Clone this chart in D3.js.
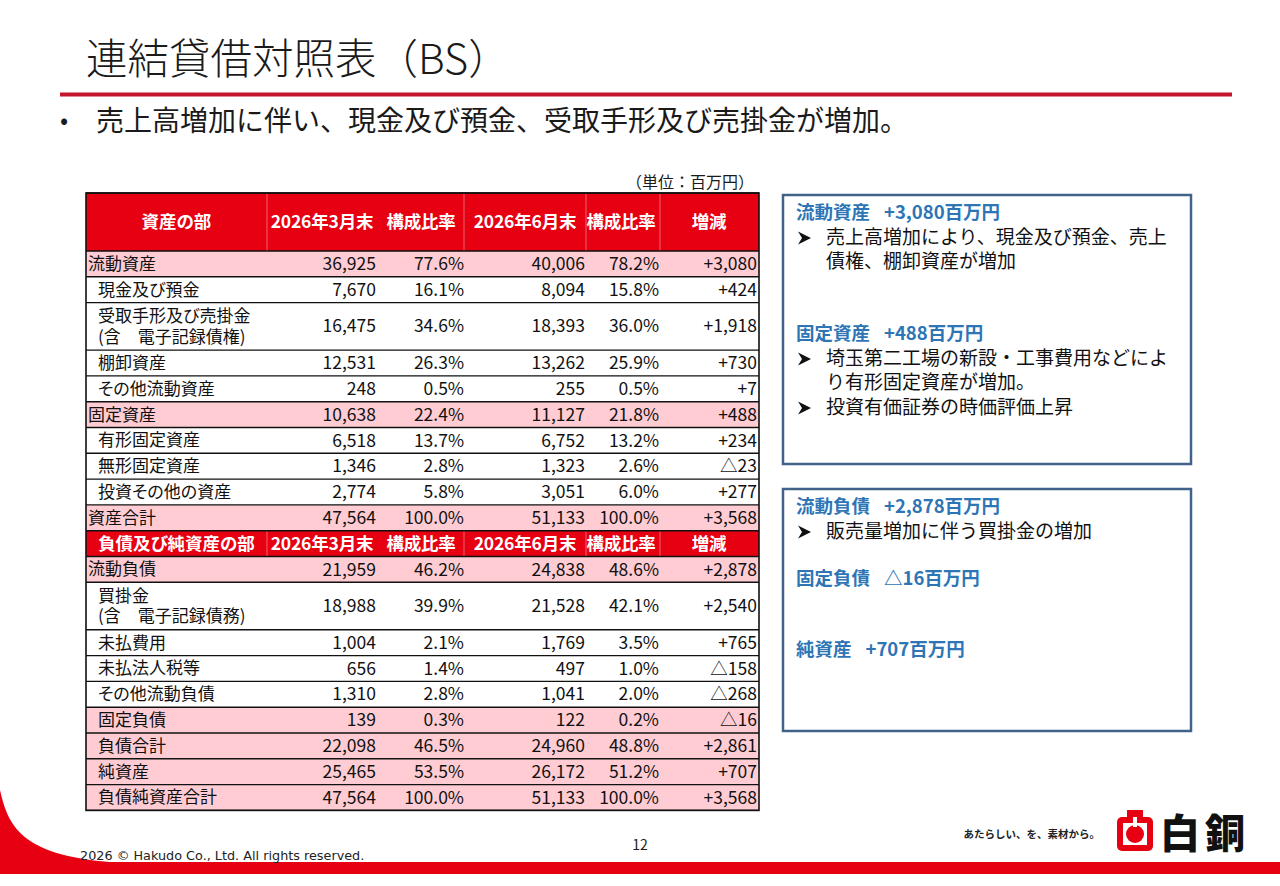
<!DOCTYPE html>
<html lang="ja">
<head>
<meta charset="utf-8">
<script src="https://cdn.jsdelivr.net/npm/d3@7"></script>
<style>
  body { margin: 0; background: #fff; }
  svg { display: block; font-family: "Noto Sans CJK JP", "Noto Sans", sans-serif; }
  .palt { font-feature-settings: "palt"; }
</style>
</head>
<body>
<svg id="slide" width="1280" height="886"></svg>
<script>
// ---- data (単位：百万円) ----
const sectionTitles = ["資産の部", "負債及び純資産の部"];
const columnHeaders = ["2026年3月末", "構成比率", "2026年6月末", "構成比率", "増減"];

// 資産の部
const assetLabels = ["流動資産", "現金及び預金", "受取手形及び売掛金|(含　電子記録債権)", "棚卸資産", "その他流動資産",
  "固定資産", "有形固定資産", "無形固定資産", "投資その他の資産", "資産合計"];
const assetKind = ["total", "item", "item", "item", "item", "total", "item", "item", "item", "total"];
const assetMar = [36925, 7670, 16475, 12531, 248, 10638, 6518, 1346, 2774, 47564];
const assetMarPct = [77.6, 16.1, 34.6, 26.3, 0.5, 22.4, 13.7, 2.8, 5.8, 100.0];
const assetJun = [40006, 8094, 18393, 13262, 255, 11127, 6752, 1323, 3051, 51133];
const assetJunPct = [78.2, 15.8, 36.0, 25.9, 0.5, 21.8, 13.2, 2.6, 6.0, 100.0];
const assetDiff = [3080, 424, 1918, 730, 7, 488, 234, -23, 277, 3568];

// 負債及び純資産の部
const liabLabels = ["流動負債", "買掛金|(含　電子記録債務)", "未払費用", "未払法人税等", "その他流動負債",
  "固定負債", "負債合計", "純資産", "負債純資産合計"];
const liabKind = ["total", "item", "item", "item", "item", "sub", "sub", "sub", "sub"];
const liabMar = [21959, 18988, 1004, 656, 1310, 139, 22098, 25465, 47564];
const liabMarPct = [46.2, 39.9, 2.1, 1.4, 2.8, 0.3, 46.5, 53.5, 100.0];
const liabJun = [24838, 21528, 1769, 497, 1041, 122, 24960, 26172, 51133];
const liabJunPct = [48.6, 42.1, 3.5, 1.0, 2.0, 0.2, 48.8, 51.2, 100.0];
const liabDiff = [2878, 2540, 765, -158, -268, -16, 2861, 707, 3568];

// 右側コメント
const noteAssets = [
  { head: "流動資産", amount: "+3,080百万円", bullets: [["売上高増加により、現金及び預金、売上", "債権、棚卸資産が増加"]] },
  { head: "固定資産", amount: "+488百万円", bullets: [["埼玉第二工場の新設・工事費用などによ", "り有形固定資産が増加。"], ["投資有価証券の時価評価上昇"]] }
];
const noteLiab = [
  { head: "流動負債", amount: "+2,878百万円", bullets: [["販売量増加に伴う買掛金の増加"]] },
  { head: "固定負債", amount: "△16百万円", bullets: [] },
  { head: "純資産", amount: "+707百万円", bullets: [] }
];

// ---- layout ----
const RED = "#E60012", PINK = "#FFCCD3", BLUE = "#2E75B6", FRAME = "#41638A";
const svg = d3.select("#slide");

const fmtNum = d3.format(",");
const fmtPct = v => d3.format(".1f")(v) + "%";
const fmtDiff = v => v < 0 ? "△" + fmtNum(-v) : d3.format("+,")(v);

function buildRows(labels, kind, mar, marPct, jun, junPct, diff) {
  return labels.map((l, i) => ({
    lines: l.split("|"), kind: kind[i],
    vals: [fmtNum(mar[i]), fmtPct(marPct[i]), fmtNum(jun[i]), fmtPct(junPct[i]), fmtDiff(diff[i])]
  }));
}

const rows = [
  { header: sectionTitles[0], tall: true },
  ...buildRows(assetLabels, assetKind, assetMar, assetMarPct, assetJun, assetJunPct, assetDiff),
  { header: sectionTitles[1] },
  ...buildRows(liabLabels, liabKind, liabMar, liabMarPct, liabJun, liabJunPct, liabDiff)
];

// row heights from content
const rowH = d => d.tall ? 58 : (d.lines && d.lines.length > 1 ? 47.5 : 25.8);
const tableTop = 193, tableLeft = 86, tableRight = 759;
const tops = [tableTop, ...d3.cumsum(rows, rowH).map(v => v + tableTop)];
rows.forEach((d, i) => { d.y0 = tops[i]; d.h = rowH(d); });
const tableBottom = tops[tops.length - 1];

// column edges: label | 3月末 | 構成比 | 6月末 | 構成比 | 増減
const colEdges = [tableLeft, 267, 464, 586, 660, tableRight];
const valueRight = d3.scaleOrdinal().domain(d3.range(5)).range([376, 464, 585, 659, 757]);
const headerCenter = d3.scaleOrdinal().domain(d3.range(5)).range([322, 421, 525, 621, 709]);

// title
svg.append("text").attr("x", 86).attr("y", 74)
  .attr("font-size", 41.5).attr("font-weight", 300).attr("fill", "#1a1a1a").text("連結貸借対照表（BS）");
svg.append("rect").attr("x", 60).attr("y", 92.5).attr("width", 1172).attr("height", 4).attr("fill", "#C3172C");
svg.append("text").attr("x", 60).attr("y", 121).attr("dy", "0.35em")
  .attr("font-size", 24).attr("fill", "#1a1a1a").text("•");
svg.append("text").attr("x", 96).attr("y", 121).attr("dy", "0.35em")
  .attr("font-size", 28).attr("fill", "#1a1a1a").text("売上高増加に伴い、現金及び預金、受取手形及び売掛金が増加。");

svg.append("text").attr("x", 754).attr("y", 182).attr("dy", "0.35em").attr("text-anchor", "end")
  .attr("font-size", 16).attr("fill", "#1a1a1a").text("（単位：百万円）");

// table rows
const table = svg.append("g").attr("class", "palt");
const rowG = table.selectAll("g.row").data(rows).join("g").attr("class", "row")
  .attr("transform", d => `translate(0,${d.y0})`);

rowG.append("rect")
  .attr("x", tableLeft).attr("width", tableRight - tableLeft).attr("height", d => d.h)
  .attr("fill", d => d.header ? RED : (d.kind === "item" ? "#fff" : PINK));

// light dividers in header rows
rowG.filter(d => d.header).selectAll("line.div")
  .data(d => colEdges.slice(1, -1).map(x => ({ x, h: d.h })))
  .join("line").attr("class", "div")
  .attr("x1", d => d.x).attr("x2", d => d.x).attr("y1", 0).attr("y2", d => d.h)
  .attr("stroke", "#F0646E").attr("stroke-width", 1);

// header texts
const hdr = rowG.filter(d => d.header);
hdr.append("text").attr("x", (tableLeft + colEdges[1]) / 2).attr("y", d => d.h / 2).attr("dy", "0.35em")
  .attr("text-anchor", "middle").attr("font-size", 17.5).attr("font-weight", 700).attr("fill", "#fff")
  .text(d => d.header);
hdr.selectAll("text.col").data(d => columnHeaders.map((c, i) => ({ c, i, h: d.h })))
  .join("text").attr("class", "col")
  .attr("x", d => headerCenter(d.i)).attr("y", d => d.h / 2).attr("dy", "0.35em")
  .attr("text-anchor", "middle").attr("font-size", 17.5).attr("font-weight", 700).attr("fill", "#fff")
  .attr("letter-spacing", -0.2)
  .text(d => d.c);

// data texts
const body = rowG.filter(d => !d.header);
body.each(function (d) {
  const g = d3.select(this);
  const x = d.kind === "total" ? 88 : 98;
  const n = d.lines.length;
  d.lines.forEach((l, k) => {
    g.append("text").attr("x", x).attr("y", d.h / 2 + (k - (n - 1) / 2) * 21).attr("dy", "0.35em")
      .attr("font-size", 17).attr("fill", "#111").text(l);
  });
});
body.selectAll("text.val").data(d => d.vals.map((v, i) => ({ v, i, h: d.h })))
  .join("text").attr("class", "val")
  .attr("x", d => valueRight(d.i)).attr("y", d => d.h / 2).attr("dy", "0.35em")
  .attr("text-anchor", "end").attr("font-size", 17.5).attr("fill", "#111")
  .text(d => d.v);

// row borders + outer frame
table.selectAll("line.hline").data(tops)
  .join("line").attr("class", "hline")
  .attr("x1", tableLeft).attr("x2", tableRight).attr("y1", d => d).attr("y2", d => d)
  .attr("stroke", "#111").attr("stroke-width", 1.4);
table.append("rect").attr("x", tableLeft).attr("y", tableTop)
  .attr("width", tableRight - tableLeft).attr("height", tableBottom - tableTop)
  .attr("fill", "none").attr("stroke", "#111").attr("stroke-width", 1.6);

// comment boxes
function noteBox(y, h, notes, spacing) {
  const g = svg.append("g");
  g.append("rect").attr("x", 783).attr("y", y).attr("width", 408).attr("height", h)
    .attr("fill", "#fff").attr("stroke", FRAME).attr("stroke-width", 2.5);
  let cy = y + 18;
  notes.forEach((n, i) => {
    const t = g.append("text").attr("x", 796).attr("y", cy).attr("dy", "0.35em")
      .attr("font-size", 18.5).attr("font-weight", 700).attr("fill", BLUE);
    t.append("tspan").text(n.head);
    t.append("tspan").attr("dx", 14).text(n.amount);
    cy += 24;
    n.bullets.forEach(b => {
      // ➢ bullet drawn as an arrowhead
      g.append("path").attr("transform", `translate(798,${cy + 1})`)
        .attr("d", "M0,-6.5 L13,0 L0,6.5 L4,0 Z").attr("fill", "#111");
      b.forEach(line => {
        g.append("text").attr("x", 826).attr("y", cy).attr("dy", "0.35em")
          .attr("font-size", 19).attr("fill", "#111").text(line);
        cy += 24.5;
      });
    });
    cy += spacing[i] || 0;
  });
}
noteBox(195, 269, noteAssets, [48]);
noteBox(489, 242, noteLiab, [23.5, 47]);

// footer
svg.append("path")
  .attr("d", "M0,790 C8,825 20,855 110,862 L0,862 Z")
  .attr("fill", RED);
svg.append("rect").attr("x", 0).attr("y", 862).attr("width", 1280).attr("height", 12).attr("fill", RED);
svg.append("text").attr("x", 80).attr("y", 856).attr("dy", "0.35em")
  .attr("font-size", 12.8).attr("fill", "#222").attr("font-family", "DejaVu Sans, sans-serif")
  .text("2026 © Hakudo Co., Ltd. All rights reserved.");
svg.append("text").attr("x", 640).attr("y", 845).attr("dy", "0.35em").attr("text-anchor", "middle")
  .attr("font-size", 14).attr("fill", "#222").text("12");

// logo
svg.append("text").attr("x", 1100).attr("y", 834).attr("dy", "0.35em").attr("text-anchor", "end")
  .attr("font-size", 10.5).attr("font-weight", 700).attr("fill", "#222").text("あたらしい、を、素材から。");
const logo = svg.append("g").attr("transform", "translate(1117,810)");
logo.append("rect").attr("x", 10).attr("y", 0).attr("width", 16).attr("height", 10).attr("fill", RED);
logo.append("rect").attr("x", 0).attr("y", 7).attr("width", 36).attr("height", 34).attr("rx", 5).attr("fill", RED);
logo.append("rect").attr("x", 6).attr("y", 13).attr("width", 24).attr("height", 22).attr("fill", "#fff");
logo.append("circle").attr("cx", 18).attr("cy", 24).attr("r", 9).attr("fill", RED);
logo.append("rect").attr("x", 16).attr("y", 7).attr("width", 4).attr("height", 10).attr("fill", "#fff");
svg.append("text").attr("x", 1160).attr("y", 834).attr("dy", "0.35em")
  .attr("font-size", 40).attr("font-weight", 900).attr("letter-spacing", 5).attr("fill", "#111").text("白銅");
</script>
</body>
</html>
